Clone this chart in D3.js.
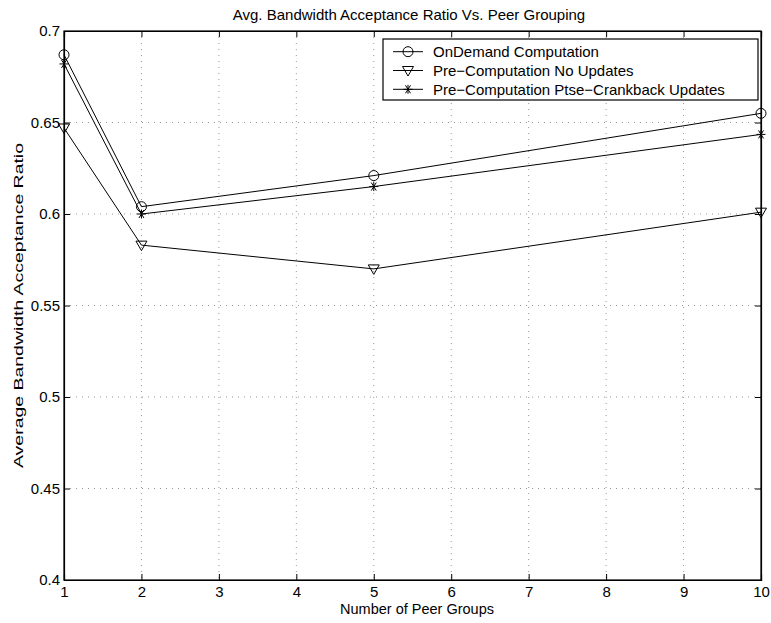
<!DOCTYPE html>
<html>
<head>
<meta charset="utf-8">
<script src="https://cdn.jsdelivr.net/npm/d3@7"></script>
<style>
  body { margin: 0; background: #fff; }
  svg { font-family: "Liberation Sans", Arial, sans-serif; }
</style>
</head>
<body>
<svg id="chart" width="771" height="623"></svg>
<script>
const peerGroups = [1, 2, 5, 10];
const onDemand = [0.687, 0.604, 0.621, 0.655];
const preNoUpdates = [0.647, 0.583, 0.570, 0.601];
const preCrankback = [0.682, 0.600, 0.615, 0.6435];
const xTicks = [1, 2, 3, 4, 5, 6, 7, 8, 9, 10];
const yTicks = [0.4, 0.45, 0.5, 0.55, 0.6, 0.65, 0.7];
const seriesNames = ["OnDemand Computation", "Pre\u2212Computation No Updates", "Pre\u2212Computation Ptse\u2212Crankback Updates"];

const svg = d3.select("#chart");
const margin = {left: 64, right: 10, top: 31, bottom: 43};
const width = 771 - margin.left - margin.right,
      height = 623 - margin.top - margin.bottom;

const x = d3.scaleLinear().domain([1, 10]).range([0, width]);
const y = d3.scaleLinear().domain([0.4, 0.7]).range([height, 0]);

const g = svg.append("g").attr("transform", "translate(" + margin.left + "," + margin.top + ")");

// grid
g.append("g").selectAll("line").data(xTicks.slice(1, -1)).enter().append("line")
    .attr("x1", d => x(d)).attr("x2", d => x(d)).attr("y1", 0).attr("y2", height)
    .attr("stroke", "#999").attr("stroke-dasharray", "1,5");
g.append("g").selectAll("line").data(yTicks.slice(1, -1)).enter().append("line")
    .attr("y1", d => y(d)).attr("y2", d => y(d)).attr("x1", 0).attr("x2", width)
    .attr("stroke", "#999").attr("stroke-dasharray", "1,5");

// axes
const fmt = d => String(+d.toFixed(2));
g.append("g").attr("transform", "translate(0," + height + ")")
    .call(d3.axisBottom(x).tickValues(xTicks).tickSize(-6).tickPadding(6).tickFormat(d3.format("d")));
g.append("g")
    .call(d3.axisLeft(y).tickValues(yTicks).tickSize(-6).tickPadding(4).tickFormat(fmt));
g.append("g").attr("transform", "translate(" + width + ",0)")
    .call(d3.axisRight(y).tickValues(yTicks).tickSize(-6).tickFormat(""));
g.append("g")
    .call(d3.axisTop(x).tickValues(xTicks).tickSize(-6).tickFormat(""));
g.selectAll(".domain").attr("stroke", "#000").attr("stroke-width", 1.2);
g.selectAll(".tick line").attr("stroke", "#000");
g.selectAll(".tick text").attr("font-size", 15).attr("fill", "#000");
g.append("rect").attr("width", width).attr("height", height)
    .attr("fill", "none").attr("stroke", "#000").attr("stroke-width", 1.2);

// labels
svg.append("text").attr("x", 409).attr("y", 20)
    .attr("text-anchor", "middle").attr("font-size", 15).text("Avg. Bandwidth Acceptance Ratio Vs. Peer Grouping");
svg.append("text").attr("x", 417).attr("y", 614)
    .attr("text-anchor", "middle").attr("font-size", 14.5).text("Number of Peer Groups");
svg.append("text").attr("transform", "translate(23," + (margin.top + height / 2) + ") rotate(-90)")
    .attr("text-anchor", "middle").attr("font-size", 13.5)
    .attr("textLength", 325).attr("lengthAdjust", "spacingAndGlyphs")
    .text("Average Bandwidth Acceptance Ratio");

// markers
function marker(sel, type) {
    if (type === 0) {
        sel.append("circle").attr("r", 5).attr("fill", "none").attr("stroke", "#000");
    } else if (type === 1) {
        sel.append("path").attr("d", "M-5.5,-4L5.5,-4L0,5.5Z").attr("fill", "none").attr("stroke", "#000");
    } else {
        sel.append("path").attr("d", "M-4.5,0L4.5,0M-2.5,-4L2.5,4M-2.5,4L2.5,-4M0,-4.5L0,4.5")
            .attr("fill", "none").attr("stroke", "#000");
    }
}

const line = d3.line().x((d, i) => x(peerGroups[i])).y(d => y(d));
[onDemand, preNoUpdates, preCrankback].forEach((vals, k) => {
    g.append("path").datum(vals).attr("d", line)
        .attr("fill", "none").attr("stroke", "#000").attr("stroke-width", 1);
    vals.forEach((v, i) => {
        const m = g.append("g").attr("transform", "translate(" + x(peerGroups[i]) + "," + y(v) + ")");
        marker(m, k);
    });
});

// legend
const lg = svg.append("g").attr("transform", "translate(383,39)");
lg.append("rect").attr("width", 375).attr("height", 61)
    .attr("fill", "#fff").attr("stroke", "#000").attr("stroke-width", 1.2);
seriesNames.forEach((name, k) => {
    const row = lg.append("g").attr("transform", "translate(0," + (12.7 + k * 18.8) + ")");
    row.append("line").attr("x1", 10).attr("x2", 40).attr("stroke", "#000");
    marker(row.append("g").attr("transform", "translate(25,0)"), k);
    row.append("text").attr("x", 50).attr("y", 5.5).attr("font-size", 15).text(name);
});
</script>
</body>
</html>
